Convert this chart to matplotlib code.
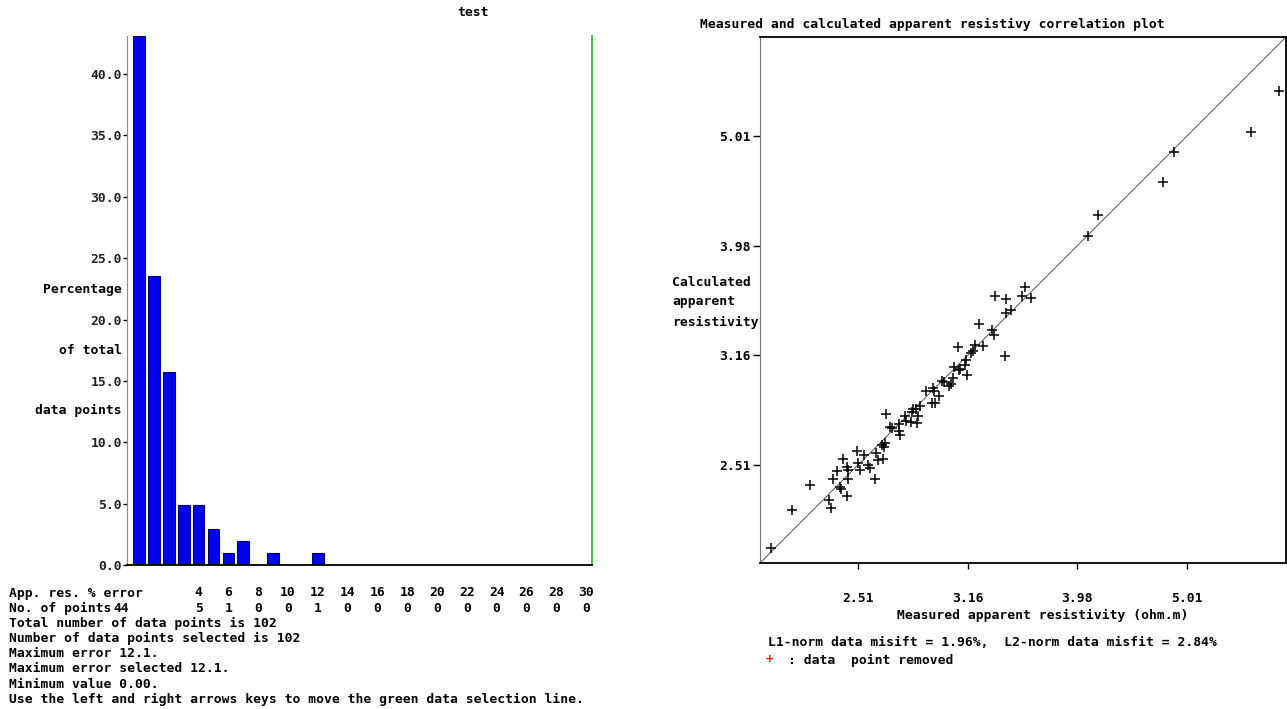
import numpy as np
import matplotlib
matplotlib.use("Agg")
import matplotlib.pyplot as plt
from matplotlib.transforms import blended_transform_factory

plt.rcParams['font.family'] = ['DejaVu Sans Mono']
plt.rcParams['font.size'] = 9.4
plt.rcParams['font.weight'] = 'bold'

# error histogram: number of data points in each 1% error bin
counts = [44, 24, 16, 5, 5, 3, 1, 2, 0, 1, 0, 0, 1] + [0] * 18
total_points = 102
max_error = 12.1
min_value = 0.00
table_bins = list(range(4, 31, 2))
percent_ticks = [0, 5, 10, 15, 20, 25, 30, 35, 40]

# measured vs calculated apparent resistivity (ohm.m)
measured = [2.092, 2.187, 2.274, 2.364, 2.376, 2.386, 2.406, 2.420, 2.423, 2.433,
            2.457, 2.460, 2.459, 2.457, 2.506, 2.511, 2.523, 2.546, 2.567, 2.576,
            2.605, 2.609, 2.621, 2.649, 2.640, 2.659, 2.655, 2.663, 2.687, 2.696,
            2.738, 2.739, 2.744, 2.772, 2.777, 2.811, 2.815, 2.821, 2.841, 2.837,
            2.851, 2.861, 2.901, 2.932, 2.942, 2.946, 2.952, 2.979, 3.000, 3.008,
            3.040, 3.057, 3.064, 3.074, 3.097, 3.104, 3.115, 3.143, 3.150, 3.161,
            3.183, 3.195, 3.210, 3.239, 3.266, 3.328, 3.340, 3.347, 3.418, 3.430,
            3.430, 3.466, 3.546, 3.564, 3.614, 4.070, 4.153, 4.761, 4.880, 5.728,
            6.070]
calculated = [2.110, 2.288, 2.412, 2.335, 2.296, 2.440, 2.480, 2.402, 2.389, 2.546,
              2.355, 2.440, 2.488, 2.502, 2.587, 2.526, 2.488, 2.568, 2.514, 2.497,
              2.440, 2.576, 2.541, 2.544, 2.622, 2.631, 2.609, 2.794, 2.724, 2.715,
              2.738, 2.696, 2.678, 2.783, 2.754, 2.751, 2.811, 2.825, 2.744, 2.825,
              2.783, 2.845, 2.933, 2.862, 2.954, 2.933, 2.862, 2.907, 2.995, 2.988,
              2.967, 2.978, 3.016, 3.083, 3.218, 3.064, 3.074, 3.100, 3.133, 3.032,
              3.179, 3.189, 3.234, 3.380, 3.223, 3.338, 3.302, 3.584, 3.156, 3.560,
              3.456, 3.480, 3.579, 3.650, 3.568, 4.059, 4.248, 4.548, 4.842, 5.050,
              5.503]
res_ticks = [10 ** 0.4, 10 ** 0.5, 10 ** 0.6, 10 ** 0.7]
res_labels = ['2.51', '3.16', '3.98', '5.01']
res_range = (2.046, 6.166)
l1_misfit = 1.96
l2_misfit = 2.84

W, H = 1287, 709
fig = plt.figure(figsize=(W / 100, H / 100), dpi=100)


def fx(px):
    return px / W


def fy(py):
    return (H - py) / H


# ---- left: error histogram ----
bins = np.arange(len(counts))
percent = np.array(counts) / total_points * 100

ax1 = fig.add_axes([fx(127), fy(565), 465 / W, 529 / H])
ax1.bar(bins, percent, width=0.78, color='#0000ee', edgecolor='#000070', linewidth=0.8)
ax1.set_xlim(-0.805, 30.4)
ax1.set_ylim(0, 43.1)
ax1.set_xticks([])
ax1.set_yticks(percent_ticks)
ax1.set_yticklabels(['%.1f' % v for v in percent_ticks])
ax1.tick_params(axis='y', length=3, width=1, pad=0.5, colors='black', labelcolor='#222222')
ax1.spines['top'].set_visible(False)
ax1.spines['left'].set_color('#8a8a8a')
ax1.spines['right'].set_color('#33bb33')
ax1.spines['right'].set_linewidth(1.3)
ax1.spines['bottom'].set_linewidth(1.3)

fig.text(fx(473), fy(13), 'test', ha='center', va='center')
for txt, py in [('Percentage', 289), ('of total', 350), ('data points', 410)]:
    fig.text(fx(122), fy(py), txt, ha='right', va='center')

# table of bin counts under the histogram
tr = blended_transform_factory(ax1.transData, fig.transFigure)
row_y = [593 + 15.2 * i for i in range(8)]
fig.text(fx(9), fy(row_y[0]), 'App. res. % error', ha='left', va='center')
fig.text(fx(9), fy(row_y[1]), 'No. of points', ha='left', va='center')
for k in table_bins:
    ax1.text(k, fy(row_y[0]), str(k), transform=tr, ha='center', va='center')
ax1.text(-1.2, fy(row_y[1]), str(counts[0]), transform=tr, ha='center', va='center')
for k in table_bins:
    ax1.text(k, fy(row_y[1]), str(counts[k]), transform=tr, ha='center', va='center')

info = ['Total number of data points is %d' % total_points,
        'Number of data points selected is %d' % total_points,
        'Maximum error %.1f.' % max_error,
        'Maximum error selected %.1f.' % max_error,
        'Minimum value %.2f.' % min_value,
        'Use the left and right arrows keys to move the green data selection line.']
for txt, py in zip(info, row_y[2:]):
    fig.text(fx(9), fy(py), txt, ha='left', va='center')

# ---- right: correlation plot ----
ax2 = fig.add_axes([fx(760), fy(563), 526 / W, 526 / H])
ax2.set_xscale('log')
ax2.set_yscale('log')
ax2.plot(res_range, res_range, color='#555555', linewidth=0.7)
ax2.plot(measured, calculated, '+', color='black', markersize=7, markeredgewidth=1.1)
ax2.set_xlim(res_range)
ax2.set_ylim(res_range)
ax2.minorticks_off()
ax2.set_xticks(res_ticks)
ax2.set_xticklabels(res_labels)
ax2.set_yticks(res_ticks)
ax2.set_yticklabels(res_labels)
ax2.tick_params(axis='x', length=4, width=1, pad=17)
ax2.tick_params(axis='y', length=5, width=1, pad=2)
for side in ['top', 'right', 'bottom']:
    ax2.spines[side].set_linewidth(1.3)
ax2.spines['left'].set_color('#777777')

fig.text(fx(932), fy(24), 'Measured and calculated apparent resistivy correlation plot',
         ha='center', va='center')
for txt, py in [('Calculated', 282), ('apparent', 302), ('resistivity', 322)]:
    fig.text(fx(672), fy(py), txt, ha='left', va='center')
fig.text(fx(1043), fy(615), 'Measured apparent resistivity (ohm.m)', ha='center', va='center')
fig.text(fx(768), fy(642),
         'L1-norm data misift = %.2f%%,  L2-norm data misfit = %.2f%%' % (l1_misfit, l2_misfit),
         ha='left', va='center')
fig.text(fx(766), fy(660), '+', color='#dd2222', ha='left', va='center')
fig.text(fx(788), fy(660), ': data  point removed', ha='left', va='center')

fig.savefig('out.png', dpi=100)
